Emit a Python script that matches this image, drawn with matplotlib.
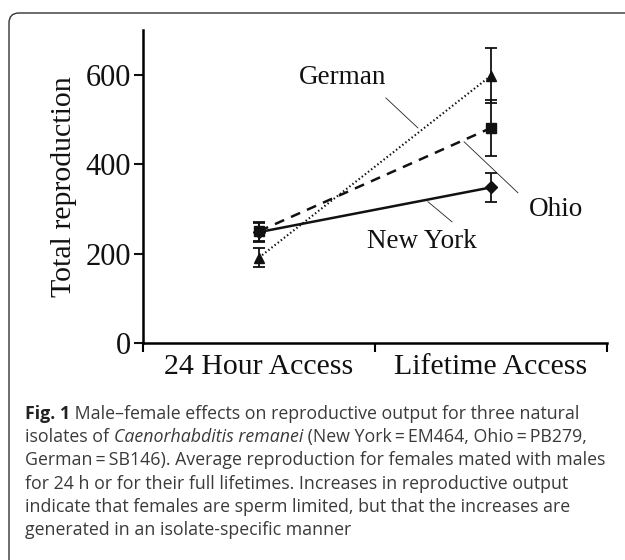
import matplotlib
matplotlib.use("Agg")
import matplotlib.pyplot as plt
from matplotlib.patches import FancyBboxPatch
from matplotlib.transforms import IdentityTransform

# data
groups = ["24 Hour Access", "Lifetime Access"]
xpos = [0.5, 1.5]
new_york = [248, 348]
new_york_err = [21, 32]
ohio = [250, 481]
ohio_err = [21, 62]
german = [191, 598]
german_err = [21, 62]

caption_lines = [
    [("Fig. 1", "bold", "normal"), (" Male\u2013female effects on reproductive output for three natural", "normal", "normal")],
    [("isolates of ", "normal", "normal"), ("Caenorhabditis remanei", "normal", "italic"),
     (" (New York\u2009=\u2009EM464, Ohio\u2009=\u2009PB279,", "normal", "normal")],
    [("German\u2009=\u2009SB146). Average reproduction for females mated with males", "normal", "normal")],
    [("for 24 h or for their full lifetimes. Increases in reproductive output", "normal", "normal")],
    [("indicate that females are sperm limited, but that the increases are", "normal", "normal")],
    [("generated in an isolate-specific manner", "normal", "normal")],
]

plt.rcParams["font.family"] = ["Liberation Serif", "DejaVu Serif"]

fig = plt.figure(figsize=(6.25, 5.6), dpi=100)
ax = fig.add_axes([0.2288, 0.3875, 0.7424, 0.5589])

lw = 1.8
ax.errorbar(xpos, new_york, yerr=new_york_err, color="#111111", lw=lw, ls="-",
            marker="D", ms=6, capsize=4, capthick=1.3, elinewidth=1.3)
ax.errorbar(xpos, ohio, yerr=ohio_err, color="#111111", lw=lw, ls=(0, (4, 3)),
            marker="s", ms=7, capsize=4, capthick=1.3, elinewidth=1.3)
ax.errorbar(xpos, german, yerr=german_err, color="#111111", lw=1.5, ls=(0, (0.7, 1.2)),
            marker="^", ms=7, capsize=4, capthick=1.3, elinewidth=1.3)

ax.set_xlim(0, 2)
ax.set_ylim(0, 700)
ax.spines["top"].set_visible(False)
ax.spines["right"].set_visible(False)
ax.spines["left"].set_linewidth(lw)
ax.spines["bottom"].set_linewidth(lw)

ax.set_yticks([0, 200, 400, 600])
ax.tick_params(axis="y", labelsize=22, length=6.5, width=1.5, pad=2, colors="#111111")
ax.set_xticks([0, 1, 2])
ax.set_xticklabels([])
ax.tick_params(axis="x", which="major", length=6.5, width=1.5)
ax.set_xticks(xpos, minor=True)
ax.set_xticklabels(groups, minor=True)
ax.tick_params(axis="x", which="minor", length=0, labelsize=21.5, pad=8, colors="#111111")
ax.set_ylabel("Total reproduction", fontsize=21.5, color="#111111", labelpad=6)

# isolate labels with thin leader lines
ax.text(0.862, 593, "German", fontsize=19.5, ha="center", va="center", color="#111111")
ax.text(1.78, 298, "Ohio", fontsize=19.5, ha="center", va="center", color="#111111")
ax.text(1.20, 228, "New York", fontsize=19.5, ha="center", va="center", color="#111111")
ax.plot([1.047, 1.185], [548, 481], color="#222222", lw=0.6)
ax.plot([1.384, 1.616], [450, 336], color="#222222", lw=0.6)
ax.plot([1.228, 1.332], [316, 271], color="#222222", lw=0.6)

# rounded frame around the figure
frame = FancyBboxPatch((9, -40), 700, 560 - 13 + 40, boxstyle="round,pad=0,rounding_size=10",
                       transform=IdentityTransform(), fill=False, ec="#333333", lw=1.0)
fig.patches.append(frame)

# caption, written line by line
renderer = fig.canvas.get_renderer()
cap_size = 12.8
y0 = 560 - 419
for i, parts in enumerate(caption_lines):
    x = 25
    y = y0 - i * 23.2
    for txt, weight, style in parts:
        t = fig.text(x, y, txt, transform=IdentityTransform(), fontsize=cap_size,
                     family=["Open Sans", "DejaVu Sans"], weight=weight, style=style,
                     color="#222222" if weight == "bold" else "#3a3a3a", va="baseline", ha="left")
        x = t.get_window_extent(renderer).x1

fig.savefig("out.png", dpi=100)
